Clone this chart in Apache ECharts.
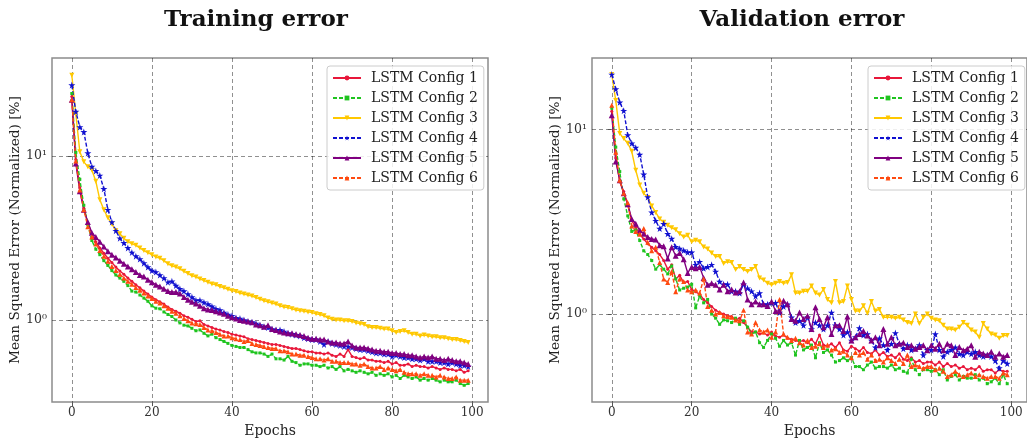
<!DOCTYPE html>
<html><head><meta charset="utf-8">
<script src="https://cdn.jsdelivr.net/npm/echarts@6/dist/echarts.min.js"></script>
<style>html,body{margin:0;padding:0;background:#fff}#c{width:1027px;height:443px}</style>
</head><body><div id="c"></div>
<script>
const seriesNames = ['LSTM Config 1','LSTM Config 2','LSTM Config 3','LSTM Config 4','LSTM Config 5','LSTM Config 6'];
const xTicks = [0, 20, 40, 60, 80, 100];
const yTicks = [1, 10];
const yTickLabels = ['10\u2070', '10\u00B9'];

// Training error
const train1 = [23,9.5,6.4,4.8,3.9,3.35,3.0,2.75,2.55,2.38,2.24,2.1,1.99,1.9,1.8,1.72,1.64,1.57,1.5,1.44,1.38,1.33,1.29,1.25,1.2,1.16,1.13,1.1,1.06,1.04,1.01,0.98,0.99,0.94,0.92,0.9,0.88,0.87,0.85,0.84,0.82,0.81,0.8,0.79,0.77,0.76,0.75,0.74,0.73,0.72,0.71,0.71,0.7,0.69,0.68,0.67,0.67,0.66,0.65,0.64,0.64,0.63,0.63,0.62,0.63,0.61,0.6,0.62,0.6,0.66,0.6,0.59,0.58,0.59,0.57,0.57,0.56,0.56,0.55,0.56,0.54,0.55,0.53,0.53,0.54,0.52,0.53,0.52,0.52,0.51,0.52,0.51,0.5,0.51,0.5,0.5,0.49,0.5,0.48,0.49];
const train2 = [24,10.5,7.2,5.0,3.8,3.05,2.7,2.5,2.3,2.15,2.0,1.88,1.8,1.72,1.62,1.5,1.48,1.42,1.36,1.3,1.22,1.18,1.17,1.12,1.08,1.05,1.0,0.96,0.93,0.92,0.89,0.86,0.87,0.83,0.8,0.82,0.78,0.76,0.74,0.72,0.7,0.69,0.68,0.68,0.66,0.64,0.63,0.63,0.62,0.6,0.62,0.58,0.58,0.57,0.6,0.56,0.55,0.53,0.54,0.54,0.53,0.53,0.52,0.53,0.51,0.52,0.5,0.52,0.49,0.5,0.49,0.48,0.49,0.48,0.47,0.48,0.46,0.47,0.46,0.47,0.45,0.46,0.44,0.46,0.45,0.44,0.45,0.43,0.44,0.43,0.44,0.43,0.42,0.43,0.42,0.42,0.43,0.41,0.4,0.41];
const train3 = [31,18,10.6,9.2,8.6,8.2,7.0,5.4,4.7,4.2,3.85,3.5,3.35,3.15,3.0,2.92,2.85,2.75,2.65,2.57,2.5,2.42,2.38,2.3,2.2,2.14,2.1,2.05,1.98,1.92,1.86,1.83,1.78,1.74,1.7,1.66,1.64,1.6,1.57,1.54,1.51,1.49,1.46,1.44,1.42,1.4,1.37,1.34,1.31,1.29,1.27,1.25,1.22,1.2,1.19,1.17,1.15,1.14,1.13,1.12,1.11,1.09,1.08,1.06,1.03,1.01,1.0,1.0,0.99,0.99,0.98,0.96,0.95,0.94,0.91,0.9,0.9,0.89,0.88,0.88,0.86,0.84,0.85,0.86,0.84,0.82,0.82,0.8,0.81,0.8,0.79,0.79,0.78,0.78,0.77,0.76,0.76,0.75,0.74,0.73];
const train4 = [27,18.6,15,14,10.4,8.6,8.1,7.6,6.3,4.7,3.95,3.5,3.15,2.95,2.75,2.58,2.45,2.35,2.22,2.1,2.0,1.96,1.88,1.8,1.7,1.72,1.62,1.55,1.5,1.44,1.38,1.32,1.32,1.28,1.25,1.21,1.17,1.15,1.11,1.08,1.06,1.03,1.02,1.0,0.98,0.97,0.95,0.93,0.91,0.9,0.88,0.87,0.87,0.85,0.83,0.82,0.81,0.8,0.78,0.77,0.76,0.76,0.74,0.71,0.74,0.72,0.71,0.7,0.69,0.69,0.68,0.67,0.66,0.66,0.65,0.64,0.63,0.63,0.62,0.62,0.6,0.61,0.6,0.59,0.59,0.58,0.58,0.57,0.58,0.56,0.56,0.56,0.55,0.55,0.54,0.55,0.54,0.53,0.53,0.52];
const train5 = [22,9.0,6.1,4.7,3.95,3.4,3.2,3.0,2.8,2.62,2.5,2.4,2.3,2.2,2.12,2.04,1.96,1.88,1.84,1.76,1.7,1.64,1.6,1.55,1.5,1.48,1.48,1.45,1.38,1.33,1.29,1.26,1.22,1.18,1.16,1.15,1.13,1.11,1.09,1.06,1.04,1.02,1.0,0.99,0.98,0.97,0.94,0.93,0.91,0.93,0.88,0.87,0.85,0.84,0.83,0.83,0.82,0.81,0.8,0.78,0.77,0.77,0.76,0.76,0.74,0.73,0.73,0.72,0.72,0.74,0.7,0.68,0.68,0.68,0.67,0.66,0.65,0.65,0.64,0.64,0.63,0.63,0.62,0.62,0.61,0.61,0.6,0.59,0.6,0.59,0.6,0.58,0.58,0.57,0.58,0.57,0.56,0.56,0.55,0.54];
const train6 = [22,9.3,6.2,4.7,3.7,3.2,2.9,2.65,2.45,2.28,2.12,2.0,1.9,1.8,1.72,1.65,1.58,1.52,1.46,1.4,1.35,1.3,1.27,1.22,1.18,1.13,1.1,1.06,1.02,0.99,0.96,0.95,0.94,0.9,0.87,0.86,0.84,0.82,0.8,0.8,0.78,0.77,0.76,0.74,0.75,0.72,0.71,0.7,0.69,0.68,0.67,0.67,0.65,0.65,0.64,0.62,0.62,0.61,0.61,0.6,0.59,0.58,0.58,0.57,0.58,0.56,0.56,0.55,0.55,0.55,0.54,0.54,0.53,0.54,0.52,0.51,0.51,0.52,0.5,0.51,0.5,0.49,0.5,0.48,0.47,0.47,0.47,0.46,0.47,0.46,0.46,0.45,0.46,0.45,0.44,0.44,0.45,0.43,0.43,0.43];

// Validation error
const val1 = [12.5,7.0,5.2,4.6,3.9,3.2,2.95,2.7,2.55,2.4,2.3,2.2,2.1,1.95,1.75,1.85,1.55,1.62,1.48,1.5,1.36,1.32,1.28,1.2,1.15,1.1,1.05,1.02,1.0,0.98,0.97,0.93,0.95,0.9,0.85,0.8,0.8,0.78,0.79,0.77,0.8,0.76,0.75,0.77,0.74,0.73,0.72,0.71,0.72,0.7,0.73,0.69,0.77,0.68,0.67,0.69,0.66,0.7,0.64,0.63,0.67,0.65,0.63,0.66,0.62,0.61,0.64,0.6,0.62,0.59,0.6,0.58,0.61,0.57,0.56,0.58,0.55,0.56,0.54,0.55,0.55,0.53,0.55,0.52,0.54,0.52,0.53,0.51,0.52,0.5,0.51,0.5,0.52,0.49,0.5,0.5,0.48,0.5,0.49,0.49];
const val2 = [13,8.0,5.9,4.2,3.4,2.8,2.85,2.5,2.2,2.1,1.95,1.75,1.85,1.75,1.65,1.82,1.55,1.35,1.38,1.4,1.45,1.08,1.25,1.15,1.2,1.0,0.95,0.88,0.93,0.92,0.9,0.95,0.88,0.92,0.85,0.78,0.8,0.7,0.66,0.72,0.78,0.74,0.67,0.72,0.68,0.7,0.6,0.72,0.64,0.66,0.68,0.58,0.7,0.62,0.64,0.6,0.55,0.56,0.58,0.56,0.58,0.52,0.52,0.5,0.53,0.55,0.51,0.52,0.52,0.51,0.53,0.5,0.51,0.49,0.48,0.57,0.5,0.47,0.5,0.5,0.49,0.5,0.47,0.5,0.44,0.46,0.47,0.44,0.46,0.45,0.45,0.47,0.44,0.45,0.42,0.43,0.45,0.42,0.47,0.42];
const val3 = [19.8,14.3,9.5,8.9,8.4,7.6,6.0,5.0,4.5,4.27,3.85,3.55,3.27,3.14,3.02,2.93,2.86,2.72,2.61,2.67,2.46,2.51,2.46,2.31,2.25,2.14,2.05,2.05,1.88,1.92,1.9,1.74,1.81,1.74,1.7,1.74,1.81,1.57,1.53,1.47,1.44,1.47,1.5,1.47,1.48,1.63,1.3,1.3,1.33,1.33,1.42,1.3,1.27,1.36,1.2,1.15,1.5,1.15,1.17,1.42,1.2,1.04,1.04,1.11,1.01,1.17,1.04,1.06,0.96,0.96,0.96,0.95,0.96,0.93,0.9,0.89,1.0,0.89,0.96,1.0,0.95,0.93,0.92,0.87,0.83,0.83,0.82,0.85,0.9,0.87,0.82,0.8,0.75,0.89,0.83,0.78,0.77,0.74,0.765,0.765];
const val4 = [19.8,16.5,14.0,12.6,9.3,8.4,7.95,7.3,5.7,4.3,3.55,3.2,2.9,3.08,2.72,2.56,2.31,2.26,2.21,2.16,2.16,1.85,1.92,1.77,1.8,1.85,1.7,1.5,1.45,1.45,1.33,1.33,1.3,1.45,1.38,1.33,1.25,1.3,1.13,1.13,1.15,1.15,1.02,1.1,1.13,0.96,0.9,0.92,0.87,0.96,0.83,0.9,0.87,0.83,0.87,1.02,0.87,0.83,0.77,0.8,0.72,0.75,0.84,0.77,0.78,0.72,0.66,0.74,0.68,0.64,0.69,0.79,0.69,0.65,0.68,0.64,0.65,0.68,0.6,0.64,0.64,0.78,0.64,0.59,0.625,0.64,0.66,0.61,0.6,0.625,0.61,0.625,0.6,0.59,0.6,0.59,0.56,0.51,0.56,0.54];
const val5 = [11.9,6.7,5.3,4.5,3.93,3.27,3.08,2.84,2.72,2.61,2.55,2.53,2.36,2.33,2.0,2.3,2.07,2.14,1.98,1.67,1.8,1.77,1.8,1.57,1.44,1.47,1.44,1.36,1.44,1.33,1.36,1.31,1.33,1.48,1.2,1.13,1.17,1.13,1.13,1.107,1.17,1.04,1.04,1.18,1.13,0.94,0.92,1.02,0.94,0.98,0.83,1.09,0.94,0.85,0.96,0.78,0.87,0.87,0.81,0.97,0.72,0.75,0.78,0.81,0.766,0.72,0.75,0.678,0.83,0.69,0.75,0.678,0.69,0.7,0.664,0.678,0.65,0.664,0.678,0.637,0.678,0.65,0.69,0.637,0.69,0.678,0.6,0.664,0.637,0.65,0.678,0.587,0.625,0.612,0.6,0.625,0.587,0.612,0.587,0.6];
const val6 = [13.5,7.5,5.3,4.5,4.0,3.0,2.8,2.7,2.9,2.45,2.2,2.3,1.9,1.55,1.48,1.7,1.32,1.55,1.5,1.35,1.32,1.35,1.3,1.55,1.1,1.05,1.0,1.02,0.98,0.97,0.96,0.93,0.92,1.05,0.8,0.78,0.9,0.82,0.8,0.82,0.75,0.8,1.2,0.78,0.75,0.72,0.74,0.7,0.68,0.72,0.66,0.67,0.69,0.66,0.68,0.64,0.65,0.62,0.63,0.6,0.58,0.62,0.6,0.62,0.57,0.6,0.56,0.57,0.55,0.58,0.56,0.54,0.57,0.54,0.6,0.52,0.53,0.52,0.51,0.52,0.52,0.5,0.51,0.49,0.46,0.47,0.49,0.47,0.46,0.47,0.48,0.46,0.47,0.46,0.45,0.46,0.46,0.45,0.48,0.47];

const trainData = [train1, train2, train3, train4, train5, train6];
const valData = [val1, val2, val3, val4, val5, val6];

const colors = ['#e8173a', '#1fc41f', '#ffc800', '#1010d0', '#800080', '#ff4a10'];
const STAR = 'path://M50,0 L61,35 L98,35 L68,57 L79,91 L50,70 L21,91 L32,57 L2,35 L39,35 Z';
const styles = [
  {symbol: 'circle', size: 3, dash: 'solid', rot: 0},
  {symbol: 'rect', size: 3, dash: [4, 2], rot: 0},
  {symbol: 'triangle', size: 5, dash: 'solid', rot: 180},
  {symbol: STAR, size: 7, dash: [4, 2], rot: 0},
  {symbol: 'triangle', size: 6, dash: 'solid', rot: 0},
  {symbol: 'triangle', size: 5, dash: [4, 2], rot: 0}
];

const FONT = 'DejaVu Serif';
const chart = echarts.init(document.getElementById('c'), null, {renderer: 'canvas'});

function mkSeries(arrs, idx) {
  return arrs.map((arr, i) => ({
    name: seriesNames[i],
    type: 'line',
    xAxisIndex: idx, yAxisIndex: idx,
    data: arr.map((v, k) => [k, v]),
    color: colors[i],
    symbol: styles[i].symbol,
    symbolSize: styles[i].size,
    symbolRotate: styles[i].rot,
    showSymbol: true,
    lineStyle: {width: 1.4, type: styles[i].dash, color: colors[i]},
    itemStyle: {color: colors[i]},
    emphasis: {disabled: true},
    animation: false
  }));
}

function xAxis(idx) {
  return {
    type: 'value', gridIndex: idx, min: -4.95, max: 103.95,
    name: 'Epochs', nameLocation: 'middle', nameGap: 16,
    nameTextStyle: {fontFamily: FONT, fontSize: 14, color: '#222'},
    axisLine: {show: false},
    axisTick: {show: true, length: 4, lineStyle: {color: '#555'}, customValues: xTicks},
    axisLabel: {fontFamily: FONT, fontSize: 12, color: '#333', margin: 5, customValues: xTicks},
    splitLine: {show: true, lineStyle: {color: 'rgba(0,0,0,0.55)', width: 0.8, type: [4, 3]}}
  };
}
function yAxis(idx, mn, mx) {
  return {
    type: 'log', logBase: 10, gridIndex: idx, min: mn, max: mx,
    name: 'Mean Squared Error (Normalized) [%]', nameLocation: 'middle', nameGap: 30,
    nameTextStyle: {fontFamily: FONT, fontSize: 13.7, color: '#222'},
    axisLine: {show: false},
    axisTick: {show: true, length: 4, lineStyle: {color: '#555'}, customValues: yTicks},
    axisLabel: {fontFamily: FONT, fontSize: 12.5, color: '#333', margin: 5, customValues: yTicks,
      formatter: v => { const k = yTicks.findIndex(t => Math.abs(t - v) < 1e-6); return k >= 0 ? yTickLabels[k] : ''; }},
    splitLine: {show: true, lineStyle: {color: 'rgba(0,0,0,0.55)', width: 0.8, type: [4, 3]}}
  };
}
function legend(left) {
  return {
    show: true, orient: 'vertical', left: left, top: 66,
    data: seriesNames,
    itemWidth: 28, itemHeight: 6, itemGap: 4,
    padding: [4, 6, 4, 5],
    backgroundColor: 'rgba(255,255,255,0.85)', borderColor: '#cccccc', borderWidth: 1, borderRadius: 3,
    textStyle: {fontFamily: FONT, fontSize: 14, color: '#222', lineHeight: 16, padding: [0, 0, 0, 5]},
    selectedMode: false
  };
}

chart.setOption({
  animation: false,
  backgroundColor: '#fff',
  title: [
    {text: 'Training error', left: 251, top: 4, textAlign: 'center', textStyle: {fontFamily: FONT, fontWeight: 'bold', fontSize: 23, color: '#111'}},
    {text: 'Validation error', left: 797, top: 4, textAlign: 'center', textStyle: {fontFamily: FONT, fontWeight: 'bold', fontSize: 23, color: '#111'}}
  ],
  grid: [
    {left: 52, top: 58, width: 436, height: 350, show: true, borderColor: '#8c8c8c', borderWidth: 1.5, backgroundColor: '#fff'},
    {left: 592, top: 58, width: 436, height: 350, show: true, borderColor: '#8c8c8c', borderWidth: 1.5, backgroundColor: '#fff'}
  ],
  xAxis: [xAxis(0), xAxis(1)],
  yAxis: [yAxis(0, 0.316, 39.5), yAxis(1, 0.334, 24.3)],
  legend: [legend(327), legend(868)],
  series: mkSeries(trainData, 0).concat(mkSeries(valData, 1))
});
</script>
</body></html>
